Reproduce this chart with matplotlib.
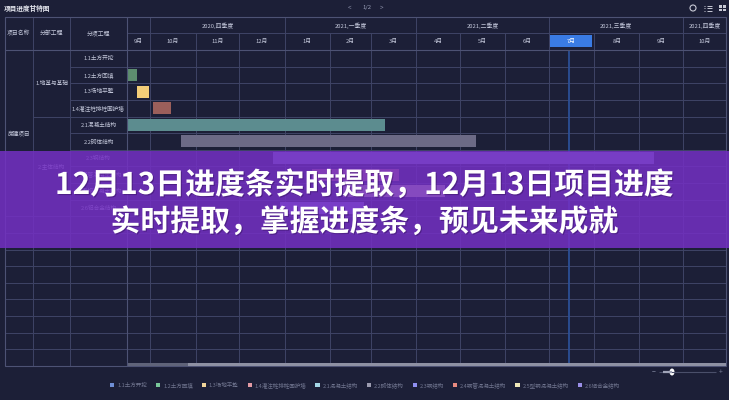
import numpy as np
import matplotlib
matplotlib.use("Agg")
import matplotlib.pyplot as plt
import matplotlib.dates as mdates
import matplotlib.patheffects as pe
from matplotlib.patches import Rectangle, Patch, Ellipse, Circle

plt.rcParams['font.family'] = ['Noto Sans CJK SC', 'DejaVu Sans']

# ---------------- data ----------------
chart_title = "项目进度甘特图"
page_label = "1/2"
banner_lines = ["12月13日进度条实时提取，12月13日项目进度",
                "实时提取，掌握进度条，预见未来成就"]
col_headers = ["项目名称", "分部工程", "分项工程"]
project_name = "房建项目"
group_names = ["1.地基与基础", "2.主体结构"]
group_sizes = [4, 6]
task_names = ["1.1土方开挖", "1.2土方回填", "1.3场地平整", "1.4灌注桩排桩围护墙",
              "2.1混凝土结构", "2.2砌体结构", "2.3钢结构", "2.4钢管混凝土结构",
              "2.5型钢混凝土结构", "2.6铝合金结构"]
task_starts = ["", "2020-09-14", "2020-09-22", "2020-10-03", "2020-09-16",
               "2020-10-22", "2020-12-24", "2021-01-20", "2021-02-10", "2020-12-29"]
task_ends = ["", "2020-09-22", "2020-09-30", "2020-10-15", "2021-03-11",
             "2021-05-12", "2021-09-11", "2021-03-20", "2021-04-21", "2021-02-24"]
n_rows = 19
view_start, view_end = "2020-09-15", "2021-10-30"
today = "2021-07-15"
month_starts = ["2020-09-01", "2020-10-01", "2020-11-01", "2020-12-01", "2021-01-01",
                "2021-02-01", "2021-03-01", "2021-04-01", "2021-05-01", "2021-06-01",
                "2021-07-01", "2021-08-01", "2021-09-01", "2021-10-01", "2021-11-01"]
month_labels = ["9月", "10月", "11月", "12月", "1月", "2月", "3月", "4月", "5月",
                "6月", "7月", "8月", "9月", "10月"]
quarter_starts = ["2020-07-01", "2020-10-01", "2021-01-01", "2021-04-01",
                  "2021-07-01", "2021-10-01", "2022-01-01"]
quarter_labels = ["2020,三季度", "2020,四季度", "2021,一季度", "2021,二季度",
                  "2021,三季度", "2021,四季度"]
highlight_month = 10  # index of 7月

# ---------------- styles ----------------
BG = "#1c1f37"
GRID = "#3f4466"
FRAME = "#4d5274"
TXT = "#c3c7da"
bar_colors = ["#6f8fd6", "#5d8d6f", "#f3cd78", "#9b5f5b", "#5c8c8f",
              "#6c6a86", "#8a86d0", "#d07a74", "#e6dca8", "#8f86dc"]
legend_colors = ["#6f8fd6", "#79c79a", "#f0d49a", "#e29aa4", "#a4d6e6",
                 "#9c9cb0", "#8f8ff0", "#e88a80", "#efe7b8", "#9a8fe8"]

W, H = 729, 400
fig = plt.figure(figsize=(W / 100, H / 100), dpi=100)
fig.patch.set_facecolor(BG)


def box(x0, y0, x1, y1):
    return [x0 / W, 1 - y1 / H, (x1 - x0) / W, (y1 - y0) / H]


TL, TR = 127, 725.6
TOP, HSPLIT, HBOT, BOT = 17, 32.5, 50, 366
LX, C1, C2 = 5, 33, 70


def d(s):
    return mdates.date2num(np.datetime64(s))


vs, ve = d(view_start), d(view_end)

ax_g = fig.add_axes(box(TL, HBOT, TR, BOT))
ax_h = fig.add_axes(box(TL, TOP, TR, HBOT), sharex=ax_g)
ax_l = fig.add_axes(box(LX, HBOT, TL, BOT), sharey=ax_g)
ax_lh = fig.add_axes(box(LX, TOP, TL, HBOT))
for a in (ax_g, ax_h, ax_l, ax_lh):
    a.set_facecolor("none")
    a.axis("off")

ax_g.set_xlim(vs, ve)
ax_g.set_ylim(n_rows, 0)
ax_h.set_ylim(1, 0)
ax_l.set_xlim(LX, TL)
ax_lh.set_xlim(LX, TL)
ax_lh.set_ylim(HBOT, TOP)
split = (HSPLIT - TOP) / (HBOT - TOP)

# ---- gantt grid + bars ----
for i in range(1, n_rows):
    ax_g.axhline(i, color=GRID, lw=0.7, zorder=1)
for m in month_starts:
    x = d(m)
    if vs < x < ve:
        ax_g.axvline(x, color=GRID, lw=0.7, zorder=1)
ax_g.axvline(d(today), color="#2b4f96", lw=1.3, zorder=2)
for i, (s, e) in enumerate(zip(task_starts, task_ends)):
    if s:
        ax_g.barh(i + 0.5, d(e) - d(s), left=d(s), height=0.72,
                  color=bar_colors[i], zorder=3)

# ---- timeline header ----
ax_h.axhline(split, color=GRID, lw=0.7)
qnums = [d(q) for q in quarter_starts]
for x in qnums:
    if vs < x < ve:
        ax_h.axvline(x, color=GRID, lw=0.7)
for m in month_starts:
    x = d(m)
    if vs < x < ve and x not in qnums:
        ax_h.axvline(x, ymin=0, ymax=1 - split, color=GRID, lw=0.7)
for k, lab in enumerate(month_labels):
    x0 = max(d(month_starts[k]), vs)
    x1 = min(d(month_starts[k + 1]), ve)
    if k == highlight_month:
        ax_h.add_patch(Rectangle((x0 + 0.4, 0.545), (x1 - x0) - 1.8, 0.364,
                                 color="#3a7be3", lw=0))
        col = "#ffffff"
    else:
        col = TXT
    ax_h.text((x0 + x1) / 2, (split + 1) / 2 + 0.01, lab, ha="center", va="center",
              fontsize=4.2, color=col)
for k, lab in enumerate(quarter_labels):
    x0 = max(qnums[k], vs)
    x1 = min(qnums[k + 1], ve)
    if x1 - x0 > 20:
        ax_h.text((x0 + x1) / 2, split / 2 + 0.02, lab, ha="center", va="center",
                  fontsize=4.2, color=TXT)

# ---- left header ----
ax_lh.vlines([C1, C2], TOP, HBOT, color=GRID, lw=0.7)
for cx, lab in zip([(LX + C1) / 2, (C1 + C2) / 2, (C2 + TL) / 2], col_headers):
    ax_lh.text(cx, (TOP + HBOT) / 2, lab, ha="center", va="center",
               fontsize=4.2, color=TXT)

# ---- left table ----
n_tasks = len(task_names)
ax_l.vlines([C1, C2], 0, n_rows, color=GRID, lw=0.7)
for i in range(1, n_rows):
    ax_l.hlines(i, C2, TL, color=GRID, lw=0.7)
bounds = np.cumsum(group_sizes)
for i in range(1, n_rows):
    if i in bounds[:-1] or i >= n_tasks:
        ax_l.hlines(i, C1, C2, color=GRID, lw=0.7)
    if i >= n_tasks:
        ax_l.hlines(i, LX, C1, color=GRID, lw=0.7)
for i, name in enumerate(task_names):
    ax_l.text((C2 + TL) / 2, i + 0.5, name, ha="center", va="center",
              fontsize=4.1, color=TXT)
g0 = 0
for name, sz in zip(group_names, group_sizes):
    ax_l.text((C1 + C2) / 2, g0 + sz / 2, name, ha="center", va="center",
              fontsize=4.1, color=TXT)
    g0 += sz
ax_l.text((LX + C1) / 2, n_tasks / 2, project_name, ha="center", va="center",
          fontsize=4.1, color=TXT)

# ---- pixel overlay: frame, title, toolbar, scrollbar, slider ----
ax_px = fig.add_axes([0, 0, 1, 1], zorder=1)
ax_px.set_facecolor("none")
ax_px.axis("off")
ax_px.set_xlim(0, W)
ax_px.set_ylim(H, 0)
ax_px.add_patch(Rectangle((LX, TOP), TR + 0.4 - LX, BOT - TOP, fill=False,
                          ec=FRAME, lw=0.8))
ax_px.hlines(HBOT, LX, TR, color=FRAME, lw=0.8)
ax_px.vlines(TL, TOP, BOT, color=FRAME, lw=0.8)
ax_px.add_patch(Rectangle((TL, 362.5), 61, 3, color="#5f6379", lw=0))
ax_px.add_patch(Rectangle((188, 362.5), TR - 188, 3, color="#8e91a3", lw=0))

ax_px.text(4, 8, chart_title, fontsize=4.8, color="#e8eaf2", fontweight="bold",
           va="center", ha="left")
ax_px.text(350, 8, "<", fontsize=4.5, color="#8a8fa8", va="center", ha="center")
ax_px.text(367, 8, page_label, fontsize=4.3, color="#9a9fb8", va="center", ha="center")
ax_px.text(382, 8, ">", fontsize=4.5, color="#8a8fa8", va="center", ha="center")
ax_px.add_patch(Circle((693, 8), 3.0, fill=False, ec="#c8cad6", lw=0.8))
for yy in (5.5, 8, 10.5):
    ax_px.hlines(yy, 707, 712, color="#c8cad6", lw=0.7)
    ax_px.hlines(yy, 704.5, 705.5, color="#c8cad6", lw=0.7)
for gx in (719.5, 723):
    for gy in (5, 8.5):
        ax_px.add_patch(Rectangle((gx, gy), 2.6, 2.6, color="#c8cad6", lw=0))

ax_px.text(654, 372, "−", fontsize=5, color="#7a7f98", va="center", ha="center")
ax_px.hlines(372, 659, 716, color="#4a4f6a", lw=0.8)
ax_px.hlines(372, 663, 672, color="#a0a4b8", lw=1.6)
ax_px.add_patch(Ellipse((672, 372), 5, 7, color="#ffffff", lw=0))
ax_px.text(721, 372, "+", fontsize=5, color="#7a7f98", va="center", ha="center")

# ---- legend ----
handles = [Patch(facecolor=c, edgecolor="none") for c in legend_colors]
fig.legend(handles, task_names, loc="center", bbox_to_anchor=(365 / W, 1 - 385 / H),
           ncol=10, frameon=False, fontsize=4, handlelength=0.8, handleheight=0.8,
           handletextpad=0.5, columnspacing=1.6, labelcolor="#70758f")

# ---- banner overlay ----
ax_top = fig.add_axes([0, 0, 1, 1], zorder=10)
ax_top.set_facecolor("none")
ax_top.axis("off")
ax_top.set_xlim(0, W)
ax_top.set_ylim(H, 0)
ax_top.add_patch(Rectangle((0, 151), W, 97, fc="#7430c4", alpha=0.85, lw=0))
shadow = [pe.withSimplePatchShadow(offset=(0.8, -0.8), shadow_rgbFace="#2a0a50", alpha=0.4)]
for yy, line in zip([185, 222], banner_lines):
    ax_top.text(W / 2, yy, line, ha="center", va="center", fontsize=21.5,
                fontweight="bold", color="white", path_effects=shadow)

fig.savefig("out.png", dpi=100, facecolor=BG)
